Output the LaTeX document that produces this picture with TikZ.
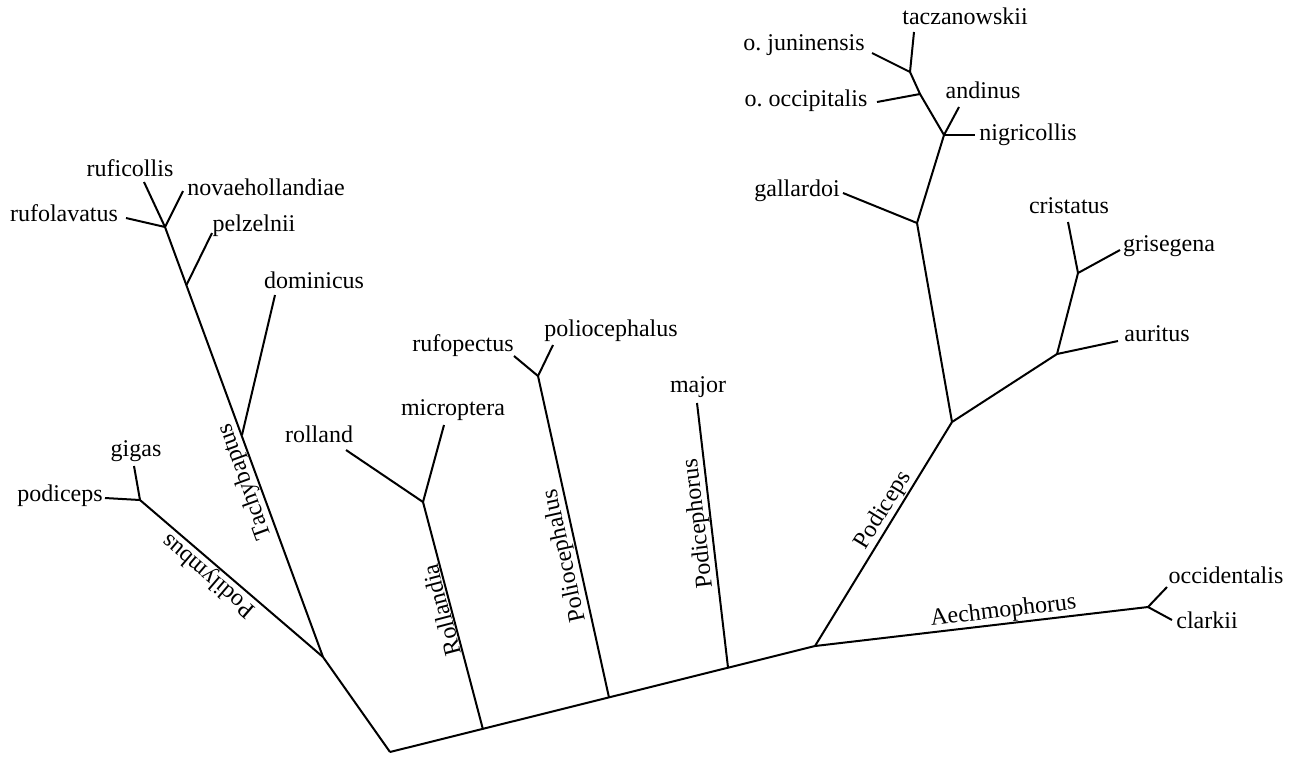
\documentclass[tikz,border=0pt]{standalone}
\usepackage{fontspec}
\setmainfont{Liberation Serif}
\begin{document}
\begin{tikzpicture}[x=0.5pt,y=-0.5pt,
  br/.style={line width=1pt, line join=round},
  lab/.style={font=\fontsize{12}{14}\selectfont, inner sep=0pt, anchor=mid},
  clade/.style={font=\fontsize{12}{14}\selectfont, inner sep=0.5pt, anchor=south}]
\useasboundingbox (0,0) rectangle (1293,756);
% internal nodes and tips
\coordinate (root) at (390,752);
\coordinate (nB1) at (483,729.5);
\coordinate (nB2) at (609,697.5);
\coordinate (nB3) at (728,667.5);
\coordinate (nR) at (815,646);
\coordinate (nL) at (323,657);
\coordinate (nPod) at (140,500);
\coordinate (tGigas) at (134,466);
\coordinate (tPodiceps) at (105,498);
\coordinate (nDom) at (242,435);
\coordinate (nPel) at (186.5,285);
\coordinate (nRuf) at (165,227);
\coordinate (tRufol) at (126,218);
\coordinate (tRuficollis) at (144,182);
\coordinate (tNovae) at (183,191);
\coordinate (tPelz) at (212,233);
\coordinate (tDom) at (275,295);
\coordinate (nRol) at (423,502);
\coordinate (tRolland) at (346,450);
\coordinate (tMicro) at (444,425);
\coordinate (nPol) at (538,376);
\coordinate (tRufop) at (514,356);
\coordinate (tPolio) at (553,345);
\coordinate (tMajor) at (697,403);
\coordinate (nAech) at (1148,607);
\coordinate (tOcc) at (1167,587);
\coordinate (tClark) at (1172,620);
\coordinate (nPc) at (952,422);
\coordinate (nGal) at (917,223);
\coordinate (tGal) at (843,193);
\coordinate (nNig) at (944,135);
\coordinate (tNig) at (975,135);
\coordinate (tAnd) at (959,107);
\coordinate (nOcc) at (920,94);
\coordinate (tOccip) at (877,102);
\coordinate (nJun) at (910,72);
\coordinate (tJun) at (872,53);
\coordinate (tTacz) at (914,32);
\coordinate (nAur) at (1057,354);
\coordinate (tAur) at (1118,341);
\coordinate (nCri) at (1078,273);
\coordinate (tCri) at (1068,222);
\coordinate (tGris) at (1120,250);
% branches
\draw[br] (root) -- (nR);
\draw[br] (root) -- (nL);
\draw[br] (nL) -- (nPod);
\draw[br] (nPod) -- (tGigas);
\draw[br] (nPod) -- (tPodiceps);
\draw[br] (nL) -- (nRuf);
\draw[br] (nRuf) -- (tRufol);
\draw[br] (nRuf) -- (tRuficollis);
\draw[br] (nRuf) -- (tNovae);
\draw[br] (nPel) -- (tPelz);
\draw[br] (nDom) -- (tDom);
\draw[br] (nB1) -- (nRol);
\draw[br] (nRol) -- (tRolland);
\draw[br] (nRol) -- (tMicro);
\draw[br] (nB2) -- (nPol);
\draw[br] (nPol) -- (tRufop);
\draw[br] (nPol) -- (tPolio);
\draw[br] (nB3) -- (tMajor);
\draw[br] (nR) -- (nAech);
\draw[br] (nAech) -- (tOcc);
\draw[br] (nAech) -- (tClark);
\draw[br] (nR) -- (nPc);
\draw[br] (nPc) -- (nGal);
\draw[br] (nGal) -- (tGal);
\draw[br] (nGal) -- (nNig);
\draw[br] (nNig) -- (tNig);
\draw[br] (nNig) -- (tAnd);
\draw[br] (nNig) -- (nOcc) -- (nJun);
\draw[br] (nOcc) -- (tOccip);
\draw[br] (nJun) -- (tJun);
\draw[br] (nJun) -- (tTacz);
\draw[br] (nPc) -- (nAur);
\draw[br] (nAur) -- (tAur);
\draw[br] (nAur) -- (nCri);
\draw[br] (nCri) -- (tCri);
\draw[br] (nCri) -- (tGris);
% tip labels
\node[lab] (lGigas) at (136,452) {gigas};
\node[lab] (lPodiceps) at (60,497) {podiceps};
\node[lab] (lRufol) at (64,217) {rufolavatus};
\node[lab] (lRuficollis) at (130,172) {ruficollis};
\node[lab] (lNovae) at (266,191) {novaehollandiae};
\node[lab] (lPelz) at (254,227) {pelzelnii};
\node[lab] (lDom) at (314,284) {dominicus};
\node[lab] (lRolland) at (319,438) {rolland};
\node[lab] (lMicro) at (453,411) {microptera};
\node[lab] (lRufop) at (463,347) {rufopectus};
\node[lab] (lPolio) at (611,332) {poliocephalus};
\node[lab] (lMajor) at (698,388) {major};
\node[lab] (lTacz) at (965,20) {taczanowskii};
\node[lab] (lJun) at (804,46) {o.~juninensis};
\node[lab] (lOccip) at (806,102) {o.~occipitalis};
\node[lab] (lAnd) at (983,94) {andinus};
\node[lab] (lNig) at (1028,136) {nigricollis};
\node[lab] (lGal) at (797,192) {gallardoi};
\node[lab] (lCri) at (1069,209) {cristatus};
\node[lab] (lGris) at (1169,247) {grisegena};
\node[lab] (lAur) at (1157,337) {auritus};
\node[lab] (lOcc) at (1226,579) {occidentalis};
\node[lab] (lClark) at (1207,624) {clarkii};
% clade labels
\path (nL) -- node[clade, pos=0.484, rotate=110] (cTach) {Tachybaptus} (nPel);
\path (nL) -- node[clade, pos=0.58, rotate=139.4] (cPodil) {Podilymbus} (nPod);
\path (nB1) -- node[clade, pos=0.535, rotate=104.7] (cRol) {Rollandia} (nRol);
\path (nB2) -- node[clade, pos=0.449, rotate=102.5] (cPol) {Poliocephalus} (nPol);
\path (nB3) -- node[clade, pos=0.549, rotate=96.7] (cPodic) {Podicephorus} (tMajor);
\path (nR) -- node[clade, pos=0.576, rotate=58.5] (cPc) {Podiceps} (nPc);
\path (nR) -- node[clade, pos=0.57, rotate=6.7] (cAech) {Aechmophorus} (nAech);
\end{tikzpicture}
\end{document}
